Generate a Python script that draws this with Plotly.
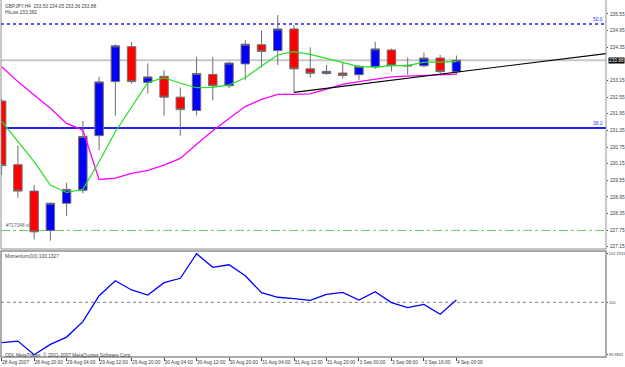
import plotly.graph_objects as go

# ---------------- data ----------------
bar_index = list(range(29))
opens  = [232.41, 230.11, 229.16, 227.74, 228.72, 229.19, 231.16, 233.11, 234.37, 233.08,
          233.30, 232.55, 232.07, 233.37, 232.96, 233.75, 234.44, 234.23, 235.01, 233.57,
          233.40, 233.42, 233.36, 233.64, 234.25, 233.70, 233.68, 233.96, 233.47]
highs  = [232.50, 230.80, 229.37, 228.75, 229.46, 231.69, 233.29, 234.46, 234.54, 233.77,
          233.52, 232.90, 234.00, 234.00, 233.83, 234.60, 234.95, 235.51, 235.15, 234.35,
          233.71, 233.82, 233.71, 234.55, 234.30, 233.98, 234.16, 234.07, 234.05]
lows   = [229.74, 228.92, 227.42, 227.37, 228.26, 229.08, 230.64, 231.88, 233.04, 232.68,
          231.88, 231.16, 231.89, 232.43, 232.87, 233.16, 233.63, 233.71, 232.72, 233.26,
          233.36, 233.22, 233.17, 233.57, 233.48, 233.36, 233.63, 233.39, 233.36]
closes = [230.08, 229.16, 227.69, 228.72, 229.22, 231.13, 233.10, 234.40, 233.11, 233.28,
          232.55, 232.10, 233.40, 232.96, 233.78, 234.46, 234.20, 235.01, 233.57, 233.41,
          233.48, 233.33, 233.66, 234.29, 233.69, 233.68, 233.96, 233.47, 233.88]

ma_fast = [231.68, 230.94, 230.22, 229.38, 229.11, 229.22, 230.22, 231.30, 232.21, 233.08,
           233.25, 233.05, 232.89, 232.90, 232.99, 233.25, 233.67, 234.07, 234.19, 234.09,
           233.95, 233.81, 233.65, 233.63, 233.69, 233.69, 233.81, 233.81, 233.83]
ma_slow = [233.65, 233.11, 232.63, 232.15, 231.60, 231.36, 229.58, 229.63, 229.80, 229.91,
           230.10, 230.34, 230.85, 231.34, 231.78, 232.21, 232.47, 232.65, 232.65, 232.67,
           232.84, 233.01, 233.11, 233.20, 233.28, 233.31, 233.34, 233.35, 233.382]

momentum = [97.68, 97.77, 96.9831, 97.58, 98.00, 98.89, 100.38, 101.24, 100.71, 100.42,
            101.13, 101.38, 102.7911, 102.01, 102.16, 101.53, 100.55, 100.29, 100.21, 100.11,
            100.46, 100.57, 100.13, 100.61, 99.98, 99.69, 99.88, 99.31, 100.1327]

time_tick_index = [0, 2, 4, 6, 8, 10, 12, 14, 16, 18, 20, 22, 24, 26, 28]
time_tick_text = ["28 Aug 2007", "28 Aug 20:00", "29 Aug 04:00", "29 Aug 12:00", "29 Aug 20:00",
                  "30 Aug 04:00", "30 Aug 12:00", "30 Aug 20:00", "31 Aug 04:00", "31 Aug 12:00",
                  "31 Aug 20:00", "3 Sep 00:00", "3 Sep 08:00", "3 Sep 16:00", "4 Sep 00:00"]

price_ticks = [235.55, 234.95, 234.35, 233.15, 232.55, 231.95, 231.35, 230.75,
               230.15, 229.55, 228.95, 228.35, 227.75, 227.15]
price_tick_text = ["235.55", "234.95", "234.35", "233.15", "232.55", "231.95", "231.35", "230.75",
                   "230.15", "229.55", "228.95", "228.35", "227.75", "227.15"]
mom_ticks = [102.7911, 100, 96.9831]
mom_tick_text = ["102.7911", "100", "96.9831"]

fib_levels = [235.19, 231.435]
fib_names = ["50.0", "38.2"]
sl_level = 227.74
sl_text = "#717048 sl"
bid_price = 233.88
trend_x = [18, 37.3]
trend_y = [232.72, 234.13]

header_1 = "GBPJPY,H4  233.50 234.05 233.36 233.88"
header_2 = "HiLow 233.382"
mom_header = "Momentum(10) 100.1327"
copyright_text = "ODL MetaTrader, \u00a9 2001-2007 MetaQuotes Software Corp."

# ---------------- geometry ----------------
W, H = 625, 367
FONT = "Liberation Sans"
FS = 4.8
px = lambda v: v / W
py = lambda v: 1 - v / H

fig = go.Figure()

fig.add_trace(go.Scatter(x=bar_index, y=ma_slow, mode="lines",
                         line=dict(color="#FF00FF", width=1.3), xaxis="x", yaxis="y",
                         hoverinfo="skip"))
fig.add_trace(go.Scatter(x=bar_index, y=ma_fast, mode="lines",
                         line=dict(color="#22E022", width=1.2), xaxis="x", yaxis="y",
                         hoverinfo="skip"))
fig.add_trace(go.Candlestick(x=bar_index, open=opens, high=highs, low=lows, close=closes,
                             increasing=dict(fillcolor="#0000FF", line=dict(color="#6E6E6E", width=1)),
                             decreasing=dict(fillcolor="#FF0000", line=dict(color="#6E6E6E", width=1)),
                             whiskerwidth=0, xaxis="x", yaxis="y", hoverinfo="skip"))
fig.add_trace(go.Scatter(x=trend_x, y=trend_y, mode="lines",
                         line=dict(color="#000000", width=1.2), xaxis="x", yaxis="y",
                         hoverinfo="skip"))
fig.add_trace(go.Scatter(x=bar_index, y=momentum, mode="lines",
                         line=dict(color="#0000FF", width=1.3), xaxis="x2", yaxis="y2",
                         hoverinfo="skip"))

shapes = []
shapes.append(dict(type="line", xref="x domain", yref="y", x0=0, x1=1, y0=bid_price, y1=bid_price,
                   line=dict(color="#C8C8C8", width=2), layer="below"))
shapes.append(dict(type="line", xref="x domain", yref="y", x0=0, x1=1, y0=fib_levels[0], y1=fib_levels[0],
                   line=dict(color="#2020FF", width=1.5, dash="dot"), layer="below"))
shapes.append(dict(type="line", xref="x domain", yref="y", x0=0, x1=1, y0=fib_levels[1], y1=fib_levels[1],
                   line=dict(color="#2020FF", width=2), layer="below"))
shapes.append(dict(type="line", xref="x domain", yref="y", x0=0, x1=1, y0=sl_level, y1=sl_level,
                   line=dict(color="#66CC66", width=1, dash="dashdot"), layer="below"))
shapes.append(dict(type="line", xref="x2 domain", yref="y2", x0=0, x1=1, y0=100, y1=100,
                   line=dict(color="#808080", width=1, dash="dot"), layer="below"))
shapes.append(dict(type="rect", xref="x domain", yref="y domain", x0=0, x1=1, y0=0, y1=1.02,
                   line=dict(color="#909090", width=1)))
shapes.append(dict(type="rect", xref="x2 domain", yref="y2 domain", x0=0, x1=1, y0=0, y1=1,
                   line=dict(color="#909090", width=1.5)))

small = dict(family=FONT, size=FS, color="#404040")
annotations = [
    dict(xref="paper", yref="paper", x=px(3), y=py(1.5), xanchor="left", yanchor="top",
         text=header_1, showarrow=False, font=small),
    dict(xref="paper", yref="paper", x=px(3), y=py(7.5), xanchor="left", yanchor="top",
         text=header_2, showarrow=False, font=small),
    dict(xref="paper", yref="paper", x=px(3), y=py(252), xanchor="left", yanchor="top",
         text=mom_header, showarrow=False, font=small),
    dict(xref="paper", yref="paper", x=px(3), y=py(349.5), xanchor="left", yanchor="top",
         text=copyright_text, showarrow=False, font=small),
    dict(xref="paper", yref="y", x=px(4), y=sl_level, xanchor="left", yanchor="bottom",
         text=sl_text, showarrow=False, font=dict(family=FONT, size=FS, color="#606060")),
    dict(xref="paper", yref="y", x=px(607.5), y=bid_price, xanchor="left", yanchor="middle",
         text=f"{bid_price:.2f}", showarrow=False, bgcolor="#000000", borderpad=0,
         font=dict(family=FONT, size=FS, color="#FFFFFF")),
]
for lvl, name in zip(fib_levels, fib_names):
    annotations.append(dict(xref="paper", yref="y", x=px(605), y=lvl, xanchor="right", yanchor="bottom",
                            text=name, showarrow=False, font=dict(family=FONT, size=FS, color="#3030FF")))

x_range = [-0.04, 37.21]
axis_font = dict(family=FONT, size=FS, color="#404040")
fig.update_layout(
    width=W, height=H,
    margin=dict(l=0, r=0, t=0, b=0, autoexpand=False),
    paper_bgcolor="white", plot_bgcolor="white",
    showlegend=False,
    boxgap=0.26,
    font=dict(family=FONT, size=FS, color="#404040"),
    xaxis=dict(domain=[px(1), px(606)], range=x_range, anchor="y", showgrid=False, zeroline=False,
               showticklabels=False, rangeslider=dict(visible=False), matches="x2", automargin=False),
    yaxis=dict(domain=[py(249), 1], range=[227.07, 236.055], side="right", anchor="x",
               tickvals=price_ticks, ticktext=price_tick_text, ticks="outside", ticklen=1,
               tickcolor="#404040", showgrid=False, zeroline=False, automargin=False,
               ticklabelstandoff=1, tickfont=axis_font),
    xaxis2=dict(domain=[px(1), px(606)], range=x_range, anchor="y2", showgrid=False, zeroline=False,
                tickvals=time_tick_index, ticktext=time_tick_text, ticks="outside", ticklen=3,
                tickcolor="#404040", ticklabelposition="outside right", tickangle=0,
                automargin=False, tickfont=axis_font),
    yaxis2=dict(domain=[py(357), py(251)], range=[96.855, 102.95], side="right", anchor="x2",
                tickvals=mom_ticks, ticktext=mom_tick_text, ticks="outside", ticklen=1,
                tickcolor="#404040", showgrid=False, zeroline=False, automargin=False,
                ticklabelstandoff=0, tickfont=dict(family=FONT, size=4.0, color="#404040")),
    shapes=shapes,
    annotations=annotations,
)

fig.write_html("out.html")
